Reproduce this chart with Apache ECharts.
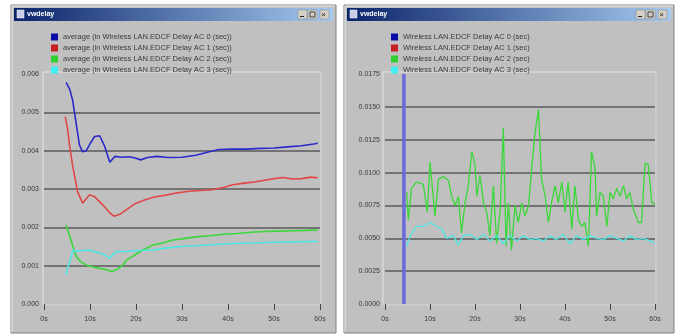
<!DOCTYPE html>
<html><head><meta charset="utf-8">
<script src="https://cdn.jsdelivr.net/npm/echarts@6/dist/echarts.min.js"></script>
<style>html,body{margin:0;padding:0;background:#fff}#c{width:681px;height:336px}</style>
</head><body><div id="c"></div>
<script>
// ---------- data ----------
const windowTitles = ['vwdelay', 'vwdelay'];
const xTicks = [0, 10, 20, 30, 40, 50, 60];
const leftYTicks = [0, 0.001, 0.002, 0.003, 0.004, 0.005, 0.006];
const rightYTicks = [0, 0.0025, 0.005, 0.0075, 0.01, 0.0125, 0.015, 0.0175];

const leftNames = [
  'average (in Wireless LAN.EDCF Delay AC 0 (sec))',
  'average (in Wireless LAN.EDCF Delay AC 1 (sec))',
  'average (in Wireless LAN.EDCF Delay AC 2 (sec))',
  'average (in Wireless LAN.EDCF Delay AC 3 (sec))'
];
const rightNames = [
  'Wireless LAN.EDCF Delay AC 0 (sec)',
  'Wireless LAN.EDCF Delay AC 1 (sec)',
  'Wireless LAN.EDCF Delay AC 2 (sec)',
  'Wireless LAN.EDCF Delay AC 3 (sec)'
];

// left: running averages
const avgAC0_t = [4.8, 5.6, 6.2, 6.6, 7.7, 8.4, 9.2, 10.0, 11.0, 12.1, 13.2, 14.3, 15.4, 16.8, 18.5, 20.0, 21.0, 22.5, 24.5, 27.0, 30.0, 33.0, 35.5, 38.0, 41.0, 44.0, 47.0, 50.0, 53.0, 56.0, 59.0, 59.5];
const avgAC0_v = [0.00578, 0.00560, 0.00533, 0.00502, 0.00415, 0.00397, 0.00400, 0.00418, 0.00437, 0.00439, 0.00411, 0.00370, 0.00385, 0.00383, 0.00384, 0.00380, 0.00376, 0.00382, 0.00385, 0.00382, 0.00383, 0.00388, 0.00396, 0.00403, 0.00404, 0.00404, 0.00406, 0.00407, 0.00410, 0.00413, 0.00418, 0.00420];

const avgAC1_t = [4.6, 5.1, 5.6, 6.2, 7.3, 8.4, 9.9, 11.0, 12.5, 14.3, 15.2, 16.5, 18.0, 20.0, 22.0, 24.0, 26.5, 29.0, 31.5, 34.0, 36.5, 39.0, 41.0, 44.0, 46.0, 48.0, 50.0, 52.0, 54.0, 56.0, 58.0, 59.5];
const avgAC1_v = [0.00489, 0.00459, 0.00410, 0.00363, 0.00293, 0.00263, 0.00285, 0.00280, 0.00262, 0.00238, 0.00229, 0.00234, 0.00247, 0.00263, 0.00272, 0.00279, 0.00284, 0.00290, 0.00294, 0.00296, 0.00298, 0.00304, 0.00311, 0.00316, 0.00319, 0.00323, 0.00327, 0.00330, 0.00326, 0.00327, 0.00331, 0.00329];

const avgAC2_t = [4.8, 5.5, 6.3, 7.0, 8.0, 9.1, 10.5, 12.0, 13.5, 14.7, 15.8, 17.0, 18.0, 20.9, 23.7, 26.0, 28.0, 30.0, 33.0, 36.0, 39.0, 42.0, 45.0, 48.0, 51.0, 54.0, 57.0, 59.5];
const avgAC2_v = [0.00206, 0.00180, 0.00150, 0.00124, 0.00110, 0.00102, 0.00097, 0.00093, 0.00090, 0.00085, 0.00090, 0.00100, 0.00115, 0.00137, 0.00154, 0.00160, 0.00167, 0.00170, 0.00175, 0.00178, 0.00182, 0.00184, 0.00187, 0.00189, 0.00190, 0.00191, 0.00192, 0.00193];

const avgAC3_t = [4.8, 5.1, 5.5, 6.3, 7.0, 8.0, 9.9, 11.0, 12.0, 13.5, 14.3, 15.0, 16.0, 18.0, 20.0, 23.7, 26.0, 29.7, 33.0, 35.6, 38.0, 41.3, 45.0, 50.1, 54.0, 58.9, 59.5];
const avgAC3_v = [0.00076, 0.00095, 0.00107, 0.00141, 0.00137, 0.00139, 0.00141, 0.00136, 0.00134, 0.00126, 0.00119, 0.00130, 0.00137, 0.00137, 0.00139, 0.00141, 0.00145, 0.00150, 0.00152, 0.00154, 0.00156, 0.00158, 0.00159, 0.00161, 0.00162, 0.00163, 0.00163];

// right: raw delays
const rawAC0_t = [4.2, 4.2];
const rawAC0_v = [0.0000, 0.0175];
const rawAC1_t = [];
const rawAC1_v = [];
const rawAC2_t = [4.8, 5.2, 5.9, 7.0, 8.5, 9.4, 10.0, 10.4, 11.1, 11.9, 13.0, 14.1, 14.8, 15.6, 16.3, 17.0, 17.8, 18.5, 19.3, 20.0, 20.4, 21.1, 21.9, 22.6, 23.3, 24.1, 24.8, 25.6, 26.3, 26.9, 27.4, 28.1, 28.9, 29.6, 30.4, 31.1, 31.9, 32.6, 33.3, 34.1, 34.8, 35.6, 36.3, 37.0, 37.8, 38.5, 39.3, 40.0, 40.7, 41.5, 42.2, 43.0, 43.7, 44.4, 45.2, 45.9, 46.7, 47.0, 47.8, 48.5, 49.3, 50.0, 50.7, 51.5, 52.2, 53.0, 53.7, 54.4, 55.2, 56.3, 57.0, 57.8, 58.5, 59.3, 60.0];
const rawAC2_v = [0.0085, 0.0064, 0.0088, 0.0093, 0.0091, 0.0070, 0.0108, 0.0107, 0.0067, 0.0095, 0.0097, 0.0094, 0.0082, 0.0075, 0.0082, 0.0054, 0.0077, 0.0090, 0.0116, 0.0106, 0.0082, 0.0098, 0.0077, 0.0070, 0.0052, 0.0090, 0.0046, 0.0072, 0.0134, 0.0044, 0.0077, 0.0041, 0.0075, 0.0062, 0.0077, 0.0067, 0.0075, 0.0103, 0.0129, 0.0148, 0.0095, 0.0082, 0.0062, 0.0077, 0.0090, 0.0077, 0.0093, 0.0070, 0.0093, 0.0057, 0.0090, 0.0064, 0.0059, 0.0062, 0.0044, 0.0116, 0.0103, 0.0067, 0.0085, 0.0082, 0.0059, 0.0085, 0.0080, 0.0088, 0.0082, 0.0090, 0.0080, 0.0085, 0.0072, 0.0062, 0.0062, 0.0107, 0.0106, 0.0077, 0.0076];
const rawAC3_t = [4.8, 5.6, 7.0, 8.5, 10.0, 11.5, 12.6, 13.7, 15.2, 16.3, 17.4, 18.9, 20.4, 21.9, 23.3, 24.8, 26.3, 27.8, 29.3, 30.7, 32.2, 33.7, 35.2, 36.7, 38.1, 39.6, 41.1, 42.6, 44.1, 45.6, 47.0, 48.5, 50.0, 51.5, 53.0, 54.4, 55.9, 57.4, 58.9, 60.0];
const rawAC3_v = [0.0044, 0.0052, 0.0059, 0.0059, 0.0062, 0.0059, 0.0057, 0.0050, 0.0052, 0.0045, 0.0052, 0.0053, 0.0049, 0.0053, 0.0048, 0.0052, 0.0046, 0.0052, 0.0048, 0.0052, 0.0049, 0.0050, 0.0048, 0.0052, 0.0049, 0.0053, 0.0046, 0.0052, 0.0049, 0.0052, 0.0050, 0.0049, 0.0052, 0.0050, 0.0048, 0.0052, 0.0049, 0.0050, 0.0048, 0.0046];

const colorsLeft = ['#2a2acb', '#e04848', '#3ad83a', '#4ee6e6'];
const colorsRight = ['#6a6ad8', '#e04848', '#3ad83a', '#4ee6e6'];
const legendColors = ['#0a0aa8', '#c82020', '#30d030', '#40f0f0'];

// ---------- build ----------
const zip = (t, v) => t.map((x, i) => [x, v[i]]);
const chart = echarts.init(document.getElementById('c'), null, {renderer: 'canvas'});
const FONT = 'Liberation Sans';
const txt = '#3a3a3a';

function windowGraphics(x, w, title) {
  const y = 5, h = 328;
  return [
    {type: 'rect', z: -20, shape: {x: x, y: y, width: w, height: h}, style: {fill: '#c0c0c0', stroke: '#808080', lineWidth: 1}},
    {type: 'polyline', z: -19, shape: {points: [[x + 1, y + h - 1], [x + 1, y + 1], [x + w - 1, y + 1]]}, style: {stroke: '#ececec', lineWidth: 1, fill: null}},
    {type: 'rect', z: -18, shape: {x: x + 3, y: y + 3, width: w - 6, height: 13},
      style: {fill: new echarts.graphic.LinearGradient(0, 0, 1, 0, [{offset: 0, color: '#0a246a'}, {offset: 1, color: '#a6caf0'}])}},
    {type: 'rect', z: -17, shape: {x: x + 6, y: y + 5, width: 7, height: 8}, style: {fill: '#c8cce8', stroke: '#ffffff', lineWidth: 0.5}},
    {type: 'text', z: -17, x: x + 16, y: y + 9.5, style: {text: title, fill: '#ffffff', font: 'bold 7px ' + FONT, verticalAlign: 'middle'}},
    {type: 'rect', z: -17, shape: {x: x + w - 38, y: y + 5, width: 9, height: 9}, style: {fill: '#d4d0c8', stroke: '#808080', lineWidth: 0.5}},
    {type: 'rect', z: -17, shape: {x: x + w - 28, y: y + 5, width: 9, height: 9}, style: {fill: '#d4d0c8', stroke: '#808080', lineWidth: 0.5}},
    {type: 'rect', z: -17, shape: {x: x + w - 16, y: y + 5, width: 9, height: 9}, style: {fill: '#d4d0c8', stroke: '#808080', lineWidth: 0.5}},
    {type: 'rect', z: -16, shape: {x: x + w - 36, y: y + 11, width: 4, height: 1}, style: {fill: '#222'}},
    {type: 'rect', z: -16, shape: {x: x + w - 26, y: y + 7, width: 5, height: 5}, style: {fill: null, stroke: '#222', lineWidth: 0.8}},
    {type: 'text', z: -16, x: x + 11.5 + w - 24, y: y + 9.5, style: {text: '×', fill: '#222', font: '8px ' + FONT, align: 'center', verticalAlign: 'middle'}}
  ];
}
function panel(l, t, r, b) {
  return [
    {type: 'polyline', z: -15, shape: {points: [[l, b], [l, t], [r, t]]}, style: {stroke: '#e4e4e4', lineWidth: 1, fill: null}},
    {type: 'polyline', z: -15, shape: {points: [[l, b], [r, b], [r, t]]}, style: {stroke: '#d8d8d8', lineWidth: 1, fill: null}}
  ];
}

const yAxisCommon = (max, interval, digits) => ({
  type: 'value', min: 0, max: max, interval: interval,
  axisLine: {show: false}, axisTick: {show: false},
  axisLabel: {fontSize: 7, color: txt, fontFamily: FONT, margin: 5, formatter: v => v.toFixed(digits)},
  splitLine: {show: true, showMinLine: false, showMaxLine: false, lineStyle: {color: '#5a5a5a', width: 1.5}}
});
const xAxisCommon = (gi) => ({
  type: 'value', gridIndex: gi, min: 0, max: 60, interval: 10,
  axisLine: {show: false},
  axisTick: {show: true, length: 6, inside: false, lineStyle: {color: '#444', width: 1}},
  axisLabel: {fontSize: 7, color: txt, fontFamily: FONT, margin: 12, formatter: v => v + 's'},
  splitLine: {show: false}
});

const series = [];
const leftData = [zip(avgAC0_t, avgAC0_v), zip(avgAC1_t, avgAC1_v), zip(avgAC2_t, avgAC2_v), zip(avgAC3_t, avgAC3_v)];
const rightData = [zip(rawAC0_t, rawAC0_v), zip(rawAC1_t, rawAC1_v), zip(rawAC2_t, rawAC2_v), zip(rawAC3_t, rawAC3_v)];
leftNames.forEach((n, i) => series.push({
  name: n, type: 'line', xAxisIndex: 0, yAxisIndex: 0, data: leftData[i], showSymbol: false, symbol: 'none',
  lineStyle: {color: colorsLeft[i], width: 1.6}, itemStyle: {color: legendColors[i]}, animation: false, z: 3 + (i === 0 ? 1 : 0)
}));
rightNames.forEach((n, i) => series.push({
  name: n, type: 'line', xAxisIndex: 1, yAxisIndex: 1, data: rightData[i], showSymbol: false, symbol: 'none',
  lineStyle: {color: colorsRight[i], width: i === 0 ? 3.5 : 1.3}, itemStyle: {color: legendColors[i]}, animation: false,
  z: i === 0 ? 5 : (i === 3 ? 4 : 3)
}));

const legendCommon = {
  orient: 'vertical', itemWidth: 7, itemHeight: 7, itemGap: 3, icon: 'rect', selectedMode: false,
  textStyle: {fontSize: 7.5, color: txt, fontFamily: FONT, lineHeight: 8}
};

chart.setOption({
  backgroundColor: '#ffffff',
  animation: false,
  graphic: [].concat(windowGraphics(11, 325, windowTitles[0]), windowGraphics(344, 330, windowTitles[1]),
                     panel(43, 72, 321, 305), panel(383, 72, 656, 305)),
  legend: [
    Object.assign({left: 46, top: 28, data: leftNames}, legendCommon),
    Object.assign({left: 386, top: 28, data: rightNames}, legendCommon)
  ],
  grid: [
    {left: 44, top: 74, width: 276, height: 230, containLabel: false},
    {left: 385, top: 74, width: 270, height: 230, containLabel: false}
  ],
  xAxis: [xAxisCommon(0), xAxisCommon(1)],
  yAxis: [Object.assign({gridIndex: 0}, yAxisCommon(0.006, 0.001, 3)), Object.assign({gridIndex: 1}, yAxisCommon(0.0175, 0.0025, 4))],
  series: series
});
</script></body></html>
